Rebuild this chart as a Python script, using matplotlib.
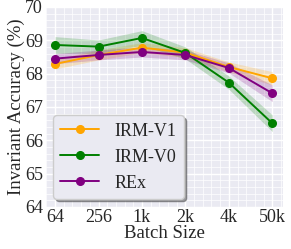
import matplotlib
matplotlib.use("Agg")
import matplotlib.pyplot as plt
import seaborn as sns
import numpy as np
from matplotlib.ticker import AutoMinorLocator

batch = ["64", "256", "1k", "2k", "4k", "50k"]
irm_v1 = [68.29, 68.56, 68.78, 68.63, 68.20, 67.86]
irm_v1_std = [0.15, 0.15, 0.15, 0.15, 0.15, 0.2]
irm_v0 = [68.86, 68.81, 69.07, 68.62, 67.73, 66.51]
irm_v0_std = [0.25, 0.2, 0.22, 0.18, 0.2, 0.25]
rex = [68.45, 68.56, 68.65, 68.56, 68.17, 67.41]
rex_std = [0.15, 0.15, 0.15, 0.15, 0.15, 0.25]

sns.set_style("darkgrid")
plt.rcParams["font.family"] = ["Liberation Serif", "DejaVu Serif"]

fig = plt.figure(figsize=(2.91, 2.49), dpi=100)
ax = fig.add_axes([0.155, 0.169, 0.818, 0.803])
x = np.arange(len(batch))
for vals, std, col, lab in [(irm_v1, irm_v1_std, "orange", "IRM-V1"),
                            (irm_v0, irm_v0_std, "green", "IRM-V0"),
                            (rex, rex_std, "purple", "REx")]:
    v = np.array(vals); s = np.array(std)
    ax.plot(x, v, color=col, marker="o", markersize=5.5, lw=1.4, label=lab)
    ax.fill_between(x, v - s, v + s, color=col, alpha=0.2, lw=0)

ax.set_xticks(x)
ax.set_xticklabels(batch)
ax.set_xlim(-0.23, 5.25)
ax.set_ylim(64, 70)
ax.set_yticks(range(64, 71))
ax.xaxis.set_minor_locator(AutoMinorLocator(5))
ax.yaxis.set_minor_locator(AutoMinorLocator(5))
ax.grid(which="major", color="white", lw=1.0)
ax.grid(which="minor", color="white", lw=0.5)
ax.tick_params(axis="both", which="both", length=0, labelsize=13, pad=1.5)
ax.set_xlabel("Batch Size", fontsize=13.5, labelpad=-1)
ax.set_ylabel("Invariant Accuracy (%)", fontsize=13.5, labelpad=0)
ax.legend(loc="lower left", fontsize=13, frameon=True, shadow=True,
          handlelength=2.15, borderaxespad=0.45, labelspacing=0.5,
          handletextpad=0.85, borderpad=0.4)
fig.savefig("out.png", dpi=100)
